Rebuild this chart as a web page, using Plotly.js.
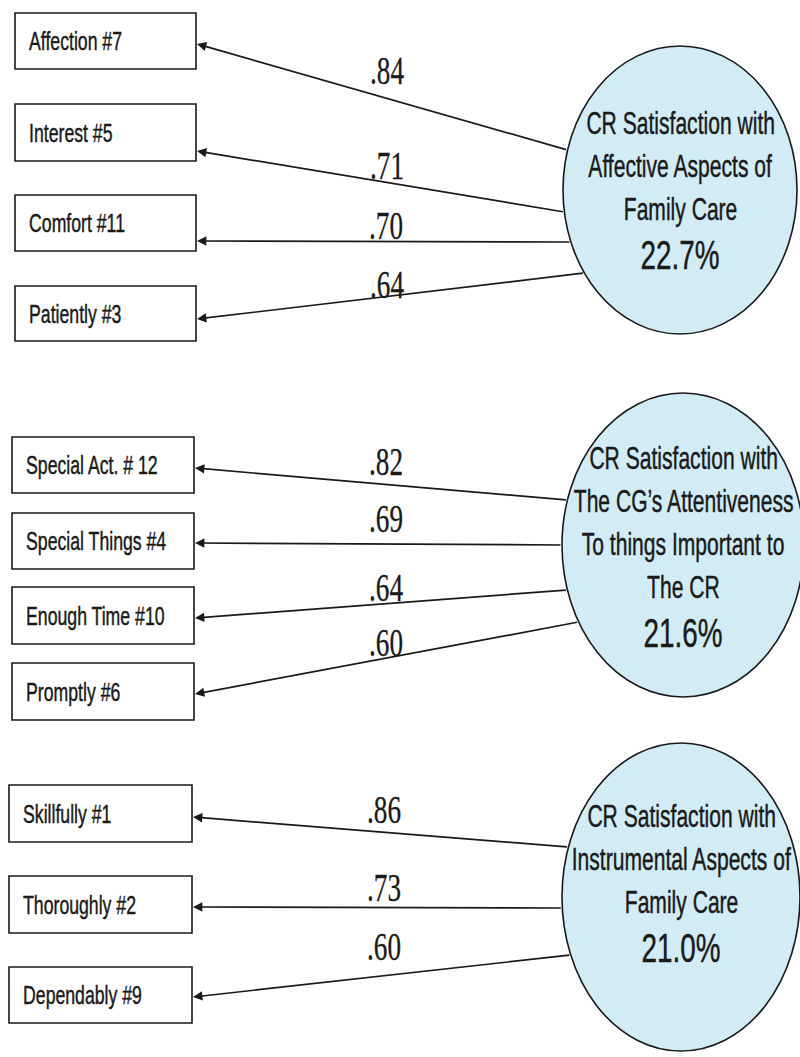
<!DOCTYPE html>
<html><head><meta charset="utf-8">
<script src="https://cdn.plot.ly/plotly-3.0.1.min.js"></script>
<style>
html,body{margin:0;padding:0;background:#fff;}
#chart{width:800px;height:1057px;}
</style>
</head><body><div id="chart"></div>
<script>
// ---- data ----
const factorNames = [
  ['CR Satisfaction with', 'Affective Aspects of', 'Family Care'],
  ['CR Satisfaction with', 'The CG\u2019s Attentiveness', 'To things Important to', 'The CR'],
  ['CR Satisfaction with', 'Instrumental Aspects of', 'Family Care']
];
const varianceExplained = [22.7, 21.6, 21.0];
const affectiveItems = ['Affection #7', 'Interest #5', 'Comfort #11', 'Patiently #3'];
const affectiveLoadings = [0.84, 0.71, 0.70, 0.64];
const attentiveItems = ['Special Act. # 12', 'Special Things #4', 'Enough Time #10', 'Promptly #6'];
const attentiveLoadings = [0.82, 0.69, 0.64, 0.60];
const instrumentalItems = ['Skillfully #1', 'Thoroughly #2', 'Dependably #9'];
const instrumentalLoadings = [0.86, 0.73, 0.60];

// ---- diagram geometry (layout only) ----
const geometry = [
  { boxX: [15, 196], boxY: [[13, 69], [104, 161], [195, 251], [286, 341]],
    tipY: [44, 151, 241, 319], endY: [150, 212, 242, 273],
    labelPos: [[387, 70], [387, 165], [386, 225], [387, 284]],
    ell: { cx: 680, cy: 190, rx: 117, ry: 144 }, textY0: 123 },
  { boxX: [12, 194], boxY: [[437, 493], [513, 569], [587, 644], [663, 720]],
    tipY: [468, 543, 618, 694], endY: [500, 545, 590, 622],
    labelPos: [[386, 461], [386, 518], [386, 587], [386, 642]],
    ell: { cx: 683, cy: 545, rx: 121, ry: 152 }, textY0: 458 },
  { boxX: [9, 192], boxY: [[785, 842], [876, 933], [967, 1023]],
    tipY: [817, 907, 997], endY: [847, 908, 955],
    labelPos: [[384, 809], [384, 887], [384, 946]],
    ell: { cx: 681, cy: 897, rx: 119, ry: 154 }, textY0: 816 }
];
const groupItems = [affectiveItems, attentiveItems, instrumentalItems];
const groupLoadings = [affectiveLoadings, attentiveLoadings, instrumentalLoadings];

const INK = '#1a1a1a';
const SANS = 'Liberation Sans, Arial, sans-serif';
const SERIF = 'Liberation Serif, Times New Roman, serif';

const shapes = [];
const annotations = [];

geometry.forEach((g, gi) => {
  const items = groupItems[gi];
  const loads = groupLoadings[gi];
  const e = g.ell;
  // ellipse (latent factor)
  shapes.push({ type: 'circle', xref: 'x', yref: 'y',
    x0: e.cx - e.rx, x1: e.cx + e.rx, y0: e.cy - e.ry, y1: e.cy + e.ry,
    fillcolor: '#d2ecf6', line: { color: INK, width: 1.6 }, layer: 'below' });
  items.forEach((name, i) => {
    const [y0, y1] = g.boxY[i];
    shapes.push({ type: 'rect', xref: 'x', yref: 'y',
      x0: g.boxX[0], x1: g.boxX[1], y0: y0, y1: y1,
      fillcolor: 'rgba(0,0,0,0)', line: { color: INK, width: 1.6 }, layer: 'below' });
    annotations.push({ xref: 'x', yref: 'y', x: g.boxX[0] + 12, y: (y0 + y1) / 2,
      text: name, showarrow: false, xanchor: 'left', yanchor: 'middle',
      font: { family: SANS, size: 26, color: INK } });
    // path from factor to item
    const ey = g.endY[i];
    const t = (ey - e.cy) / e.ry;
    const ex = e.cx - e.rx * Math.sqrt(Math.max(0, 1 - t * t));
    annotations.push({ xref: 'x', yref: 'y', axref: 'x', ayref: 'y',
      x: g.boxX[1] + 1, y: g.tipY[i], ax: ex, ay: ey, text: '',
      showarrow: true, arrowhead: 2, arrowsize: 1.1, arrowwidth: 1.7,
      arrowcolor: INK, standoff: 0, startstandoff: 0 });
    // loading
    annotations.push({ xref: 'x', yref: 'y', x: g.labelPos[i][0], y: g.labelPos[i][1],
      text: loads[i].toFixed(2).replace(/^0/, ''), showarrow: false,
      xanchor: 'center', yanchor: 'middle',
      font: { family: SERIF, size: 40, color: INK } });
  });
  // factor name lines
  const lines = factorNames[gi];
  lines.forEach((ln, li) => {
    annotations.push({ xref: 'x', yref: 'y', x: e.cx, y: g.textY0 + li * 43,
      text: ln, showarrow: false, xanchor: 'center', yanchor: 'middle',
      font: { family: SANS, size: 31, color: INK } });
  });
  annotations.push({ xref: 'x', yref: 'y', x: e.cx,
    y: g.textY0 + (lines.length - 1) * 43 + 46,
    text: varianceExplained[gi].toFixed(1) + '%', showarrow: false,
    xanchor: 'center', yanchor: 'middle',
    font: { family: SANS, size: 41, color: INK } });
});

const layout = {
  width: 800, height: 1057,
  margin: { l: 0, r: 0, t: 0, b: 0, pad: 0 },
  paper_bgcolor: '#ffffff', plot_bgcolor: '#ffffff',
  showlegend: false,
  xaxis: { range: [0, 800], visible: false, fixedrange: true },
  yaxis: { range: [1057, 0], visible: false, fixedrange: true },
  shapes: shapes,
  annotations: annotations
};

Plotly.newPlot('chart', [{ x: [], y: [], type: 'scatter', mode: 'markers', hoverinfo: 'skip' }],
  layout, { staticPlot: true, displayModeBar: false }).then(gd => {
  // condensed, slightly heavy lettering like the original figure
  gd.querySelectorAll('g.annotation').forEach(node => {
    const idx = +node.getAttribute('data-index');
    const a = annotations[idx];
    const txt = node.querySelector('text.annotation-text');
    if (!txt || !a || a.showarrow) return;
    txt.style.transformBox = 'fill-box';
    txt.style.transformOrigin = a.xanchor === 'left' ? '0% 50%' : '50% 50%';
    txt.style.transform = 'scaleX(0.68)';
    txt.style.stroke = INK;
    txt.style.strokeWidth = a.font.family === SERIF ? '0.3px' : '0.45px';
  });
});
</script>
</body></html>
